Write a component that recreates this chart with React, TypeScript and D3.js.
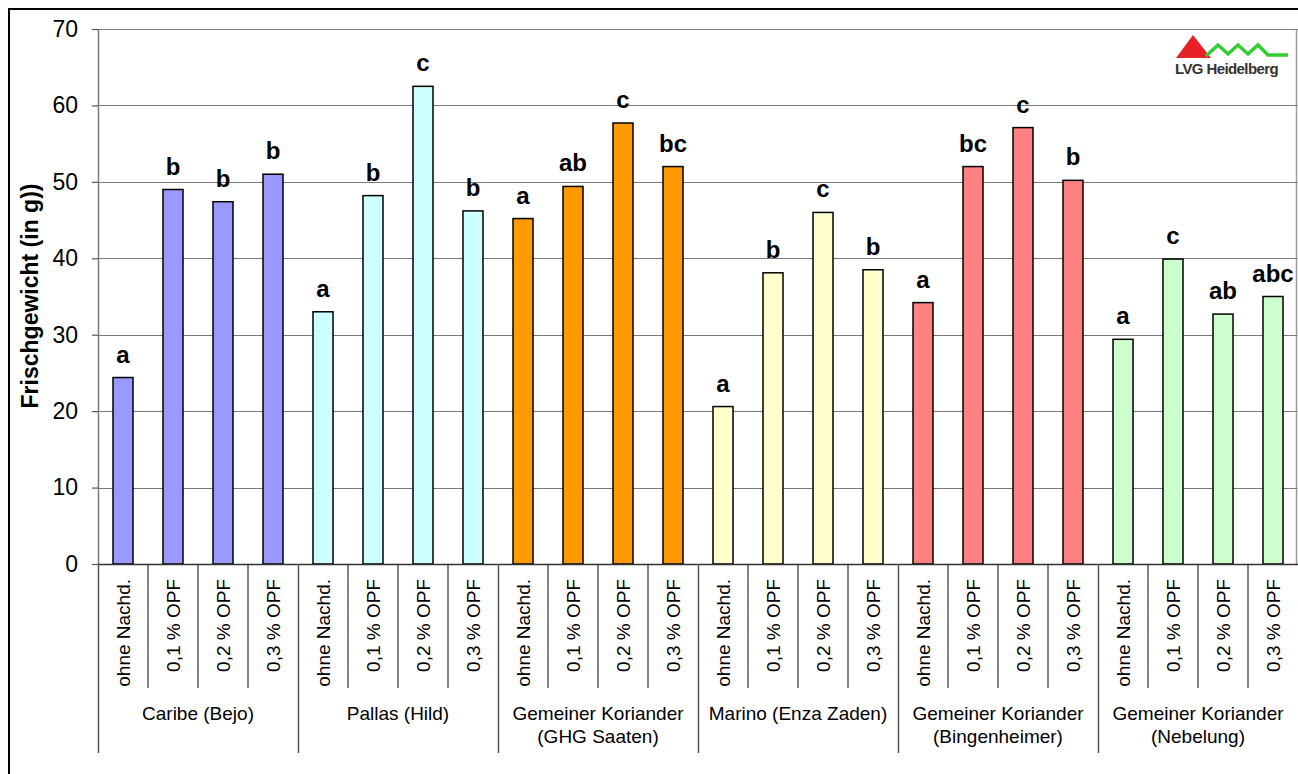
import React, { useEffect, useRef } from "react";
import * as d3 from "d3";

// Gruppen (Sorten) und Behandlungen
const groups = [
  ["Caribe (Bejo)"],
  ["Pallas (Hild)"],
  ["Gemeiner Koriander", "(GHG Saaten)"],
  ["Marino (Enza Zaden)"],
  ["Gemeiner Koriander", "(Bingenheimer)"],
  ["Gemeiner Koriander", "(Nebelung)"],
];
const treatments = ["ohne Nachd.", "0,1 % OPF", "0,2 % OPF", "0,3 % OPF"];
const groupColors = ["#9999FF", "#CCFFFF", "#FF9900", "#FFFFCC", "#FF8080", "#CCFFCC"];

// Frischgewicht je Gruppe (in g)
const caribe = [24.4, 49.0, 47.4, 51.0];
const pallas = [33.0, 48.2, 62.5, 46.2];
const ghg = [45.2, 49.4, 57.7, 52.0];
const marino = [20.6, 38.1, 46.0, 38.5];
const bingenheimer = [34.2, 52.0, 57.1, 50.2];
const nebelung = [29.4, 39.9, 32.7, 35.0];
const values = [caribe, pallas, ghg, marino, bingenheimer, nebelung];

// Signifikanzbuchstaben
const letters = [
  ["a", "b", "b", "b"],
  ["a", "b", "c", "b"],
  ["a", "ab", "c", "bc"],
  ["a", "b", "c", "b"],
  ["a", "bc", "c", "b"],
  ["a", "c", "ab", "abc"],
];

const yTicks = [0, 10, 20, 30, 40, 50, 60, 70];

const App: React.FC = () => {
  const svgRef = useRef<SVGSVGElement | null>(null);

  useEffect(() => {
    const width = 1298;
    const height = 774;
    const left = 98;
    const right = 1298;
    const top = 29;
    const bottom = 564;
    const font = "'Liberation Sans', Arial, sans-serif";

    const svg = d3.select(svgRef.current);
    svg.selectAll("*").remove();
    svg.attr("width", width).attr("height", height).attr("viewBox", [0, 0, width, height]);

    const rows = values.flatMap((vals, gi) =>
      vals.map((v, ti) => ({ key: gi + "-" + ti, gi, ti, v, letter: letters[gi][ti] })),
    );

    const x = d3
      .scaleBand()
      .domain(rows.map((d) => d.key))
      .range([left, right])
      .padding(0);
    const gx = d3
      .scaleBand()
      .domain(groups.map((_, i) => i.toString()))
      .range([left, right])
      .padding(0);
    const y = d3.scaleLinear().domain([0, 70]).range([bottom, top]);

    svg.append("rect").attr("width", width).attr("height", height).attr("fill", "#fff");

    // Außenrahmen
    svg
      .append("rect")
      .attr("x", 9)
      .attr("y", 9)
      .attr("width", 1310)
      .attr("height", 800)
      .attr("fill", "none")
      .attr("stroke", "#000")
      .attr("stroke-width", 2);

    // Gitterlinien
    svg
      .append("g")
      .selectAll("line")
      .data(yTicks.filter((t) => t > 0))
      .join("line")
      .attr("x1", left)
      .attr("x2", right)
      .attr("y1", (d) => Math.round(y(d)) + 0.5)
      .attr("y2", (d) => Math.round(y(d)) + 0.5)
      .attr("stroke", "#7a7a7a")
      .attr("stroke-width", 1.2);

    // rechter Rand der Zeichenfläche
    svg
      .append("line")
      .attr("x1", right - 1.5)
      .attr("x2", right - 1.5)
      .attr("y1", top)
      .attr("y2", bottom)
      .attr("stroke", "#9a9a9a")
      .attr("stroke-width", 1.5);

    // Logo
    const logo = svg.append("g");
    logo
      .append("path")
      .attr("d", "M1176,58 L1193,35 L1211,58 Z")
      .attr("fill", "#e8202a");
    logo
      .append("path")
      .attr(
        "d",
        "M1206,56 L1218,45 L1228,54 L1238,45 L1248,54 L1258,45 L1268,55 L1288,55",
      )
      .attr("fill", "none")
      .attr("stroke", "#33cc33")
      .attr("stroke-width", 3.5);
    logo
      .append("text")
      .attr("x", 1175)
      .attr("y", 74)
      .attr("font-family", font)
      .attr("font-weight", "bold")
      .attr("font-size", 15)
      .attr("letter-spacing", -0.6)
      .attr("fill", "#333")
      .text("LVG Heidelberg");

    // Balken
    const barW = x.bandwidth() * 0.4;
    svg
      .append("g")
      .selectAll("rect")
      .data(rows)
      .join("rect")
      .attr("x", (d) => (x(d.key) as number) + (x.bandwidth() - barW) / 2)
      .attr("y", (d) => y(d.v))
      .attr("width", barW)
      .attr("height", (d) => y(0) - y(d.v))
      .attr("fill", (d) => groupColors[d.gi])
      .attr("stroke", "#000")
      .attr("stroke-width", 1.5);

    // Buchstaben
    svg
      .append("g")
      .selectAll("text")
      .data(rows)
      .join("text")
      .attr("x", (d) => (x(d.key) as number) + x.bandwidth() / 2)
      .attr("y", (d) => y(d.v) - 15)
      .attr("text-anchor", "middle")
      .attr("font-family", font)
      .attr("font-weight", "bold")
      .attr("font-size", 24)
      .text((d) => d.letter);

    // y-Achse
    const yAxis = svg
      .append("g")
      .attr("transform", `translate(${left},0)`)
      .call(d3.axisLeft(y).tickValues(yTicks).tickSize(6).tickPadding(14).tickSizeOuter(0));
    yAxis.select(".domain").attr("stroke", "#7a7a7a").attr("stroke-width", 1.5);
    yAxis.selectAll(".tick line").attr("stroke", "#555").attr("stroke-width", 1.2);
    yAxis
      .selectAll(".tick text")
      .attr("font-family", font)
      .attr("font-size", 23)
      .attr("fill", "#000");

    // Achse unten und Trennlinien
    svg
      .append("line")
      .attr("x1", left)
      .attr("x2", right)
      .attr("y1", bottom + 0.5)
      .attr("y2", bottom + 0.5)
      .attr("stroke", "#333")
      .attr("stroke-width", 1.5);

    svg
      .append("g")
      .selectAll("line")
      .data(rows.filter((d) => d.ti > 0))
      .join("line")
      .attr("x1", (d) => x(d.key) as number)
      .attr("x2", (d) => x(d.key) as number)
      .attr("y1", bottom)
      .attr("y2", 688)
      .attr("stroke", "#333")
      .attr("stroke-width", 1.2);

    svg
      .append("g")
      .selectAll("line")
      .data(groups.map((_, i) => i))
      .join("line")
      .attr("x1", (d) => (gx(d.toString()) as number) + 0.5)
      .attr("x2", (d) => (gx(d.toString()) as number) + 0.5)
      .attr("y1", bottom)
      .attr("y2", 753)
      .attr("stroke", "#555")
      .attr("stroke-width", 1.5);

    // Behandlungsbeschriftung (gedreht)
    svg
      .append("g")
      .selectAll("text")
      .data(rows)
      .join("text")
      .attr("transform", (d) => {
        const cx = (x(d.key) as number) + x.bandwidth() / 2 + 7;
        return `translate(${cx},579) rotate(-90)`;
      })
      .attr("text-anchor", "end")
      .attr("font-family", font)
      .attr("font-size", 19)
      .text((d) => treatments[d.ti]);

    // Gruppenbeschriftung
    const gl = svg
      .append("g")
      .selectAll("text")
      .data(groups)
      .join("text")
      .attr("x", (_, i) => (gx(i.toString()) as number) + gx.bandwidth() / 2)
      .attr("y", 720)
      .attr("text-anchor", "middle")
      .attr("font-family", font)
      .attr("font-size", 19);
    gl.selectAll("tspan")
      .data((d) => d)
      .join("tspan")
      .attr("x", function () {
        return (this.parentNode as SVGTextElement).getAttribute("x");
      })
      .attr("dy", (_, i) => (i === 0 ? 0 : 23))
      .text((d) => d);

    // Achsentitel
    svg
      .append("text")
      .attr("transform", "translate(38,296) rotate(-90)")
      .attr("text-anchor", "middle")
      .attr("font-family", font)
      .attr("font-weight", "bold")
      .attr("font-size", 23)
      .text("Frischgewicht (in g))");
  }, []);

  return (
    <div style={{ position: "absolute", left: 0, top: 0 }}>
      <svg ref={svgRef} style={{ display: "block" }}></svg>
    </div>
  );
};

export default App;
